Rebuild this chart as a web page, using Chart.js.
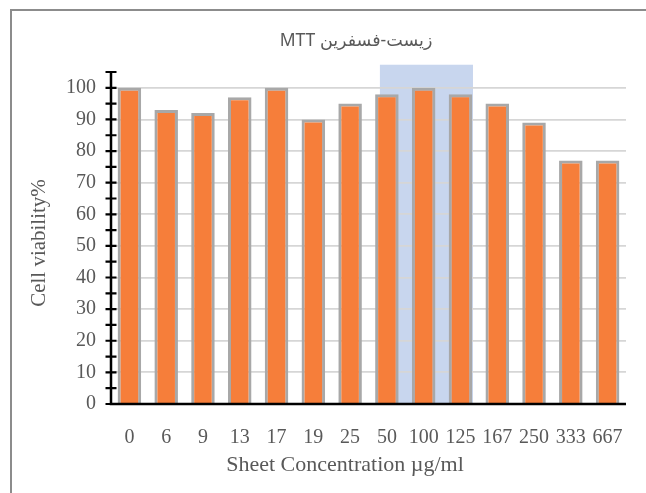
<!DOCTYPE html>
<html>
<head>
<meta charset="utf-8">
<script src="https://cdn.jsdelivr.net/npm/chart.js@4"></script>
<style>
  html, body { margin: 0; padding: 0; background: #fff; }
  #wrap { width: 646px; height: 493px; }
</style>
</head>
<body>
<div id="wrap"><canvas id="c" width="646" height="493"></canvas></div>
<script>
const categories = ['0','6','9','13','17','19','25','50','100','125','167','250','333','667'];
const viability = [100, 93, 92, 97, 100, 90, 95, 98, 100, 98, 95, 89, 77, 77];
const yTickValues = [0, 10, 20, 30, 40, 50, 60, 70, 80, 90, 100];
const yMax = 105;
const yStep = 5;
const chartTitle = 'MTT زیست-فسفرین';
const xTitle = 'Sheet Concentration µg/ml';
const yTitle = 'Cell viability%';
const highlightFrom = 7;   // category index "50"
const highlightTo = 9;     // category index "125"
const highlightTopValue = 107.3;

const TEXT = '#595959';
const SERIF = '"Liberation Serif", "Times New Roman", serif';

const decor = {
  id: 'decor',
  beforeDraw(chart) {
    const ctx = chart.ctx;
    const x = chart.scales.x, y = chart.scales.y;
    ctx.save();
    ctx.fillStyle = '#fff';
    ctx.fillRect(0, 0, chart.width, chart.height);
    ctx.strokeStyle = '#8c8c8c';
    ctx.lineWidth = 2;
    ctx.beginPath();
    ctx.moveTo(11, chart.height);
    ctx.lineTo(11, 10);
    ctx.lineTo(chart.width, 10);
    ctx.stroke();
    const cw = (x.right - x.left) / categories.length;
    const hx0 = x.getPixelForValue(highlightFrom) - 0.19 * cw;
    const hx1 = x.getPixelForValue(highlightTo) + 0.34 * cw;
    const hy0 = y.getPixelForValue(highlightTopValue);
    const hy1 = y.getPixelForValue(0);
    ctx.fillStyle = '#c8d6ee';
    ctx.fillRect(hx0, hy0, hx1 - hx0, hy1 - hy0);
    ctx.restore();
  },
  afterDraw(chart) {
    const ctx = chart.ctx;
    const y = chart.scales.y;
    const area = chart.chartArea;
    ctx.save();
    ctx.strokeStyle = '#000000';
    ctx.lineWidth = 2.5;
    ctx.beginPath();
    ctx.moveTo(area.left, area.top);
    ctx.lineTo(area.left, area.bottom);
    ctx.lineTo(area.right, area.bottom);
    ctx.stroke();
    ctx.lineWidth = 2.2;
    ctx.beginPath();
    for (let v = 0; v <= yMax; v += yStep) {
      const py = y.getPixelForValue(v);
      ctx.moveTo(area.left - 5.5, py);
      ctx.lineTo(area.left + 5.5, py);
    }
    ctx.stroke();
    ctx.fillStyle = TEXT;
    ctx.textAlign = 'center';
    ctx.textBaseline = 'middle';
    ctx.font = '17.5px "Noto Sans", "DejaVu Sans", sans-serif';
    ctx.fillText(chartTitle, 356, 41);
    ctx.font = '22px ' + SERIF;
    ctx.fillText(xTitle, 345, 465);
    ctx.font = '21px ' + SERIF;
    ctx.translate(39, 243);
    ctx.rotate(-Math.PI / 2);
    ctx.fillText(yTitle, 0, 0);
    ctx.restore();
  }
};

new Chart(document.getElementById('c'), {
  type: 'bar',
  data: {
    labels: categories,
    datasets: [{
      data: viability,
      backgroundColor: '#f67e3a',
      borderColor: '#a8a8a8',
      borderWidth: 3,
      barPercentage: 0.64,
      categoryPercentage: 1
    }]
  },
  options: {
    responsive: false,
    animation: false,
    layout: { padding: { top: 72, right: 20, left: 0, bottom: 0 } },
    plugins: { legend: { display: false }, title: { display: false }, tooltip: { enabled: false } },
    scales: {
      x: {
        grid: { display: false, drawTicks: false },
        border: { display: false },
        ticks: {
          autoSkip: false, maxRotation: 0, minRotation: 0, padding: 22,
          color: TEXT, font: { family: SERIF, size: 20 }
        },
        afterFit(s) { s.height = 89; }
      },
      y: {
        min: 0, max: yMax,
        grid: { color: '#d6d6d6', lineWidth: 1.8, drawTicks: false },
        border: { display: false },
        ticks: {
          stepSize: yStep, padding: 15,
          color: TEXT, font: { family: SERIF, size: 20 },
          callback: v => (yTickValues.includes(v) ? String(v) : '')
        },
        afterFit(s) { s.width = 111; }
      }
    }
  },
  plugins: [decor]
});
</script>
</body>
</html>
